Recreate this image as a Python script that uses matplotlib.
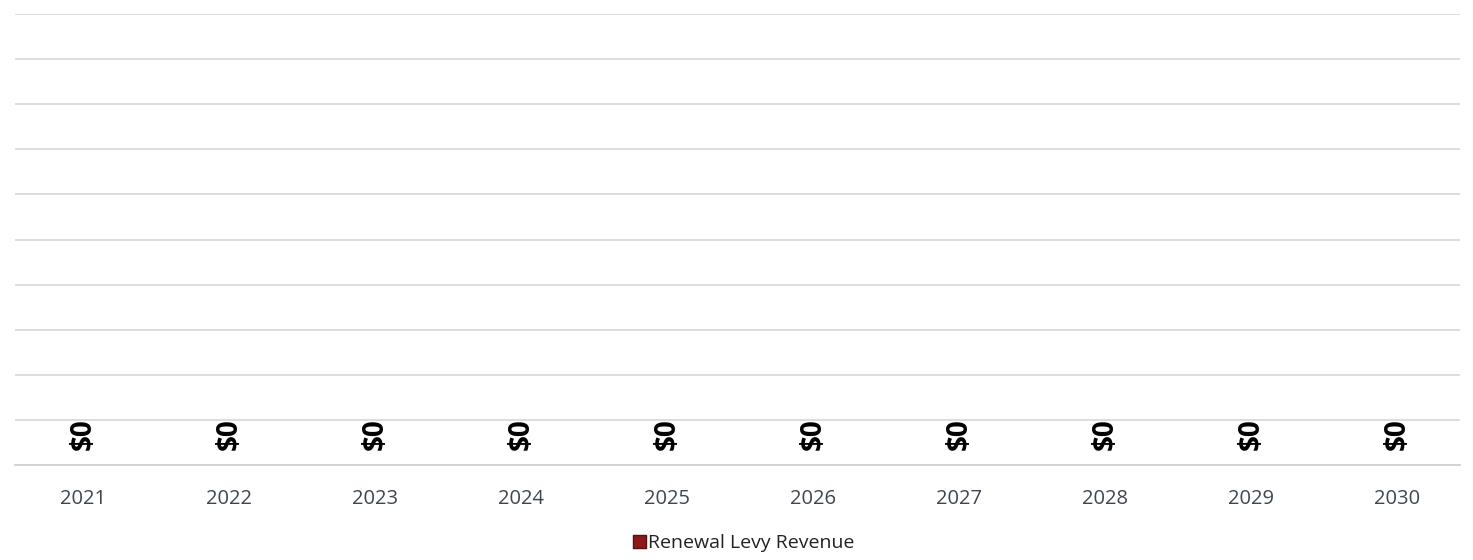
import matplotlib.pyplot as plt
from matplotlib.patches import Patch

years = ["2021", "2022", "2023", "2024", "2025", "2026", "2027", "2028", "2029", "2030"]
revenue = [0, 0, 0, 0, 0, 0, 0, 0, 0, 0]
series_name = "Renewal Levy Revenue"

plt.rcParams["font.family"] = ["Open Sans", "DejaVu Sans"]

W, H = 1473, 560
fig = plt.figure(figsize=(W / 100, H / 100), dpi=100)
ax = fig.add_axes([15 / W, 1 - 465 / H, 1445 / W, 451 / H])

bars = ax.bar(years, revenue, width=0.55, color="#8b1a1a")
ax.bar_label(bars, labels=["${:,.0f}".format(v) for v in revenue],
             rotation=90, padding=11, fontsize=20, fontweight="bold", color="black")

ax.set_ylim(0, 10)
ax.set_xlim(-0.466, 9.43)
ax.set_yticks(range(0, 11))
ax.yaxis.grid(True, color="#dadada", lw=1.3)
ax.set_axisbelow(True)
ax.tick_params(axis="y", left=False, labelleft=False)
ax.tick_params(axis="x", length=0, pad=17, labelsize=14.5, labelcolor="#3d4650")
for s in ["top", "right", "left"]:
    ax.spines[s].set_visible(False)
ax.spines["bottom"].set_color("#d0d0d0")
ax.spines["bottom"].set_linewidth(1.3)

handle = Patch(facecolor="#8b1a1a", edgecolor="#5a0e0e")
fig.legend([handle], [series_name], loc="center", bbox_to_anchor=(0.505, 1 - 543 / H),
           frameon=False, fontsize=14, handlelength=0.65, handleheight=0.65,
           handletextpad=0.15, labelcolor="#222222")

fig.savefig("out.png", dpi=100, facecolor="white")
